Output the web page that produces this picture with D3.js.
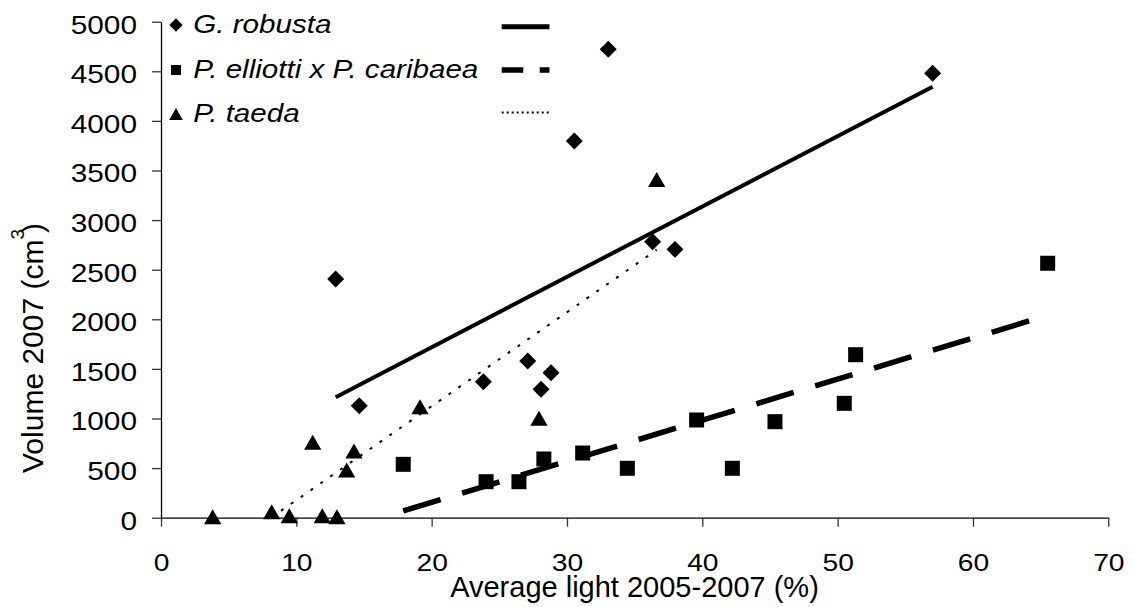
<!DOCTYPE html>
<html>
<head>
<meta charset="utf-8">
<script src="https://cdn.jsdelivr.net/npm/d3@7"></script>
<style>
  body { margin: 0; background: #fff; }
  svg { display: block; font-family: "Liberation Sans", Arial, sans-serif; }
</style>
</head>
<body>
<svg id="chart" width="1133" height="607"></svg>
<script>
// values
const robustaX = [12.91, 14.65, 23.82, 27.10, 28.82, 28.08, 33.05, 30.54, 36.33, 37.98, 57.02];
const robustaY = [2406, 1129, 1371, 1580, 1462, 1294, 4722, 3797, 2782, 2705, 4480];

const elliottiX = [17.90, 24.02, 26.45, 28.29, 31.16, 34.46, 39.58, 42.22, 45.37, 50.49, 51.33, 65.52];
const elliottiY = [538, 363, 363, 592, 652, 498, 985, 498, 968, 1153, 1643, 2565];

const taedaX = [3.82, 8.18, 9.48, 11.92, 13.00, 11.21, 14.26, 13.72, 19.14, 27.93, 36.63];
const taedaY = [10, 60, 20, 20, 10, 760, 672, 481, 1119, 1002, 3410];

// trend lines (start / end)
const robustaTrendX = [12.91, 57.02];
const robustaTrendY = [1215, 4345];
const elliottiTrendX = [17.90, 65.52];
const elliottiTrendY = [68, 2040];
const taedaTrendX = [8.14, 36.63];
const taedaTrendY = [0, 2700];

const legendLabels = ["G. robusta", "P. elliotti x P. caribaea", "P. taeda"];
const xTicks = [0, 10, 20, 30, 40, 50, 60, 70];
const yTicks = [0, 500, 1000, 1500, 2000, 2500, 3000, 3500, 4000, 4500, 5000];

const svg = d3.select("#chart");

const x = d3.scaleLinear().domain([0, 70]).range([161, 1108.3]);
const y = d3.scaleLinear().domain([0, 5000]).range([517.7, 21.7]);

// stretch text horizontally (the source font renders wider)
function stretch(sel, k) {
  sel.each(function() {
    const w = this.getComputedTextLength();
    d3.select(this).attr("textLength", w * k).attr("lengthAdjust", "spacingAndGlyphs");
  });
}

// marker shapes
const diamond = {
  draw(ctx, size) {
    const r = Math.sqrt(size / 2);
    ctx.moveTo(0, -r); ctx.lineTo(r, 0); ctx.lineTo(0, r); ctx.lineTo(-r, 0); ctx.closePath();
  }
};
const square = d3.symbolSquare;
const triangle = {
  draw(ctx, size) {
    // centred on its bounding box, w/h ~ 1.15
    const h = Math.sqrt(size * 2 / 1.15), w = h * 1.15;
    ctx.moveTo(0, -h / 2); ctx.lineTo(w / 2, h / 2); ctx.lineTo(-w / 2, h / 2); ctx.closePath();
  }
};

// axes
const yAxis = svg.append("g")
    .attr("transform", `translate(${x(0)},0)`)
    .call(d3.axisLeft(y).tickValues(yTicks).tickFormat(d3.format("d"))
      .tickSize(9).tickPadding(15).tickSizeOuter(0));
yAxis.select(".domain").attr("stroke", "#000").attr("stroke-width", 1.3);
yAxis.selectAll(".tick line").attr("stroke", "#333").attr("stroke-width", 1.3);
yAxis.selectAll("text")
    .attr("font-size", 25.5).attr("fill", "#000").attr("dy", "0.45em")
    .attr("font-family", "Liberation Sans, Arial, sans-serif")
    .call(stretch, 1.17);

const xAxis = svg.append("g")
    .attr("transform", `translate(0,${y(0)})`)
    .call(d3.axisBottom(x).tickValues(xTicks).tickFormat(d3.format("d"))
      .tickSize(9).tickSizeOuter(0));
xAxis.select(".domain").attr("stroke", "#000").attr("stroke-width", 1.3);
xAxis.selectAll(".tick line").attr("stroke", "#333").attr("stroke-width", 1.3);
xAxis.selectAll("text")
    .attr("font-size", 23.5).attr("fill", "#000").attr("y", 53).attr("dy", 0)
    .attr("font-family", "Liberation Sans, Arial, sans-serif")
    .call(stretch, 1.2);

// axis titles
svg.append("text")
    .attr("x", 634.5).attr("y", 597)
    .attr("text-anchor", "middle")
    .attr("font-size", 29)
    .text("Average light 2005-2007 (%)");

const yTitle = svg.append("text")
    .attr("transform", "translate(43.3,473) rotate(-90)")
    .attr("text-anchor", "start")
    .attr("font-size", 30);
yTitle.append("tspan").text("Volume 2007 (cm");
yTitle.append("tspan").attr("font-size", 19).attr("dy", -19).text("3");
yTitle.append("tspan").attr("dy", 19).attr("dx", -4).text(")");

// markers
const plot = svg.append("g");
function markers(xs, ys, type, size) {
  plot.append("g").selectAll("path")
    .data(xs.map((d, i) => [d, ys[i]]))
    .join("path")
      .attr("transform", d => `translate(${x(d[0])},${y(d[1])})`)
      .attr("d", d3.symbol(type, size))
      .attr("fill", "#000");
}
markers(robustaX, robustaY, diamond, 144);
markers(elliottiX, elliottiY, square, 225);
markers(taedaX, taedaY, triangle, 130);

// trend lines
const line = d3.line().x(d => x(d[0])).y(d => y(d[1]));
function trend(xs, ys, width, dash) {
  plot.append("path")
    .datum(xs.map((d, i) => [d, ys[i]]))
    .attr("d", line)
    .attr("fill", "none")
    .attr("stroke", "#000")
    .attr("stroke-width", width)
    .attr("stroke-dasharray", dash);
}
trend(robustaTrendX, robustaTrendY, 4, null);
trend(elliottiTrendX, elliottiTrendY, 5.5, "39,22.5");
trend(taedaTrendX, taedaTrendY, 2, "3,9");

// legend
const legendTypes = [diamond, square, triangle];
const legendSizes = [88, 100, 80];
const legendDash = [null, "21.6,16.4,11.3,100", "2,3"];
const legendWidth = [5, 5.5, 2];
const legendRowY = [25, 70, 114];
const lg = svg.append("g");
legendLabels.forEach((label, i) => {
  lg.append("path")
    .attr("transform", `translate(176,${legendRowY[i]})`)
    .attr("d", d3.symbol(legendTypes[i], legendSizes[i]))
    .attr("fill", "#000");
  lg.append("text")
    .attr("x", 193.3).attr("y", legendRowY[i] + 8)
    .attr("font-size", 25.5).attr("font-style", "italic")
    .text(label)
    .call(stretch, 1.16);
  lg.append("line")
    .attr("x1", 501.7).attr("x2", 549.5)
    .attr("y1", legendRowY[i] + (i === 0 ? 1.7 : (i === 2 ? -1.5 : 0)))
    .attr("y2", legendRowY[i] + (i === 0 ? 1.7 : (i === 2 ? -1.5 : 0)))
    .attr("stroke", "#000")
    .attr("stroke-width", legendWidth[i])
    .attr("stroke-dasharray", legendDash[i]);
});
</script>
</body>
</html>
